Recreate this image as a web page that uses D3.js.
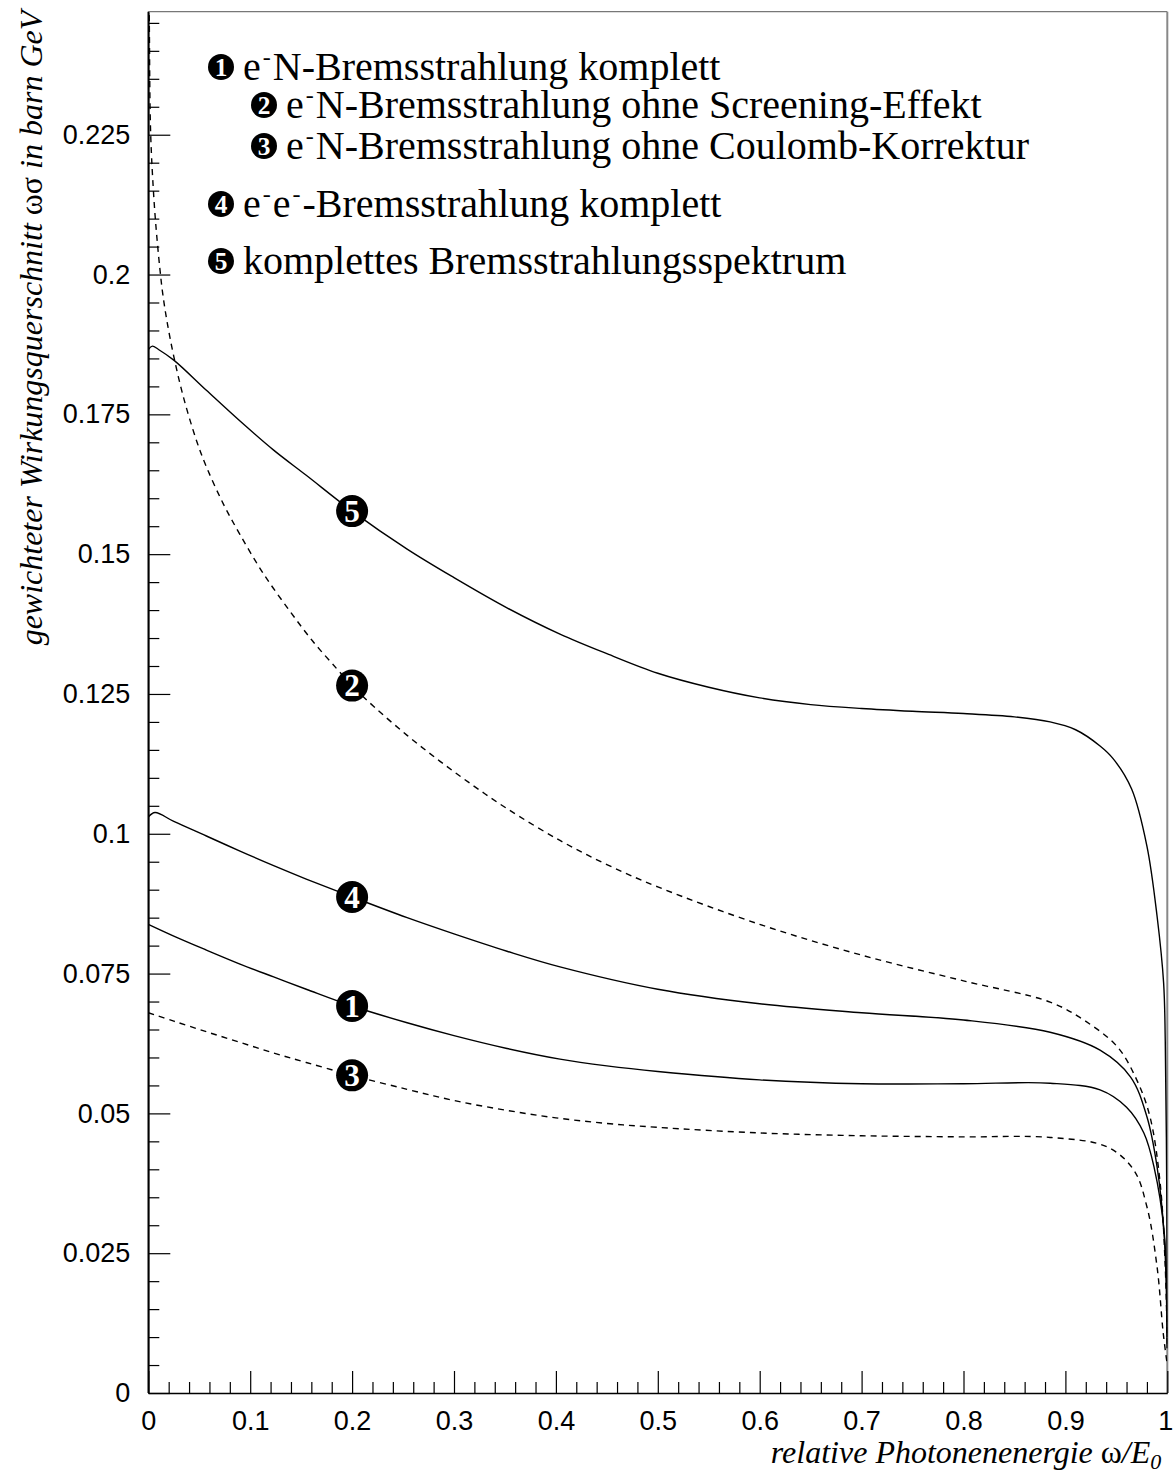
<!DOCTYPE html>
<html>
<head>
<meta charset="utf-8">
<script src="https://cdn.jsdelivr.net/npm/d3@7"></script>
<style>
  body { margin: 0; background: #fff; }
  svg { display: block; }
</style>
</head>
<body>
<svg id="chart" width="1173" height="1476"></svg>
<script>
// Weighted bremsstrahlung cross section ω·dσ/dω versus relative photon energy ω/E0

// (1) e-N bremsstrahlung, complete
const x1 = [0, 0.025, 0.057, 0.09, 0.123, 0.155, 0.2, 0.254, 0.3, 0.352, 0.404, 0.45, 0.5, 0.6, 0.7, 0.8, 0.885, 0.934, 0.96, 0.977, 0.987, 0.997, 1];
const y1 = [0.0838, 0.0817, 0.0792, 0.0767, 0.0744, 0.0722, 0.0692, 0.0662, 0.0639, 0.0616, 0.0597, 0.0585, 0.0575, 0.0560, 0.0553, 0.0553, 0.0554, 0.0542, 0.0511, 0.0465, 0.0404, 0.0286, 0.008];

// (2) e-N bremsstrahlung without screening
const x2 = [0, 0.001, 0.0023, 0.0056, 0.0085, 0.0115, 0.014, 0.018, 0.0245, 0.0343, 0.0475, 0.0573, 0.0736, 0.09, 0.113, 0.139, 0.162, 0.185, 0.2, 0.221, 0.254, 0.286, 0.319, 0.352, 0.404, 0.45, 0.5, 0.6, 0.7, 0.8, 0.885, 0.918, 0.951, 0.97, 0.983, 0.993, 0.998, 1];
const y2 = [0.27, 0.245, 0.2253, 0.2133, 0.2065, 0.2008, 0.1968, 0.1920, 0.1858, 0.1782, 0.1702, 0.1655, 0.1590, 0.1535, 0.1465, 0.1398, 0.1343, 0.1295, 0.1265, 0.1228, 0.1176, 0.1130, 0.1086, 0.1045, 0.0988, 0.0945, 0.0905, 0.0838, 0.0783, 0.0737, 0.0699, 0.0667, 0.0619, 0.0560, 0.0494, 0.0375, 0.0225, 0.008];

// (3) e-N bremsstrahlung without Coulomb correction
const x3 = [0, 0.025, 0.057, 0.09, 0.123, 0.155, 0.2, 0.254, 0.3, 0.35, 0.4, 0.45, 0.5, 0.6, 0.7, 0.8, 0.885, 0.941, 0.967, 0.98, 0.99, 0.996, 1];
const y3 = [0.0680, 0.0665, 0.0646, 0.0627, 0.0608, 0.0591, 0.0568, 0.0543, 0.0523, 0.0506, 0.0492, 0.0482, 0.0475, 0.0465, 0.0460, 0.0458, 0.0457, 0.0440, 0.0399, 0.0333, 0.0225, 0.0107, 0.005];

// (4) e-e bremsstrahlung, complete
const x4 = [0, 0.0066, 0.025, 0.057, 0.09, 0.123, 0.155, 0.2, 0.254, 0.3, 0.352, 0.404, 0.5, 0.6, 0.7, 0.8, 0.885, 0.934, 0.964, 0.98, 0.99, 0.997, 1];
const y4 = [0.1030, 0.1038, 0.1022, 0.0996, 0.0969, 0.0943, 0.0919, 0.0887, 0.0850, 0.0821, 0.0790, 0.0762, 0.0722, 0.0696, 0.0680, 0.0667, 0.0645, 0.0613, 0.0565, 0.0494, 0.0404, 0.028, 0.008];

// (5) complete bremsstrahlung spectrum
const x5 = [0, 0.004, 0.01, 0.025, 0.057, 0.09, 0.123, 0.155, 0.2, 0.254, 0.3, 0.352, 0.404, 0.45, 0.5, 0.55, 0.6, 0.65, 0.7, 0.75, 0.8, 0.85, 0.885, 0.91, 0.934, 0.947, 0.965, 0.98, 0.99, 0.9964, 0.998, 0.9995, 1];
const y5 = [0.1866, 0.1872, 0.1866, 0.1847, 0.1793, 0.1738, 0.1686, 0.1641, 0.1577, 0.1509, 0.1458, 0.1404, 0.1357, 0.1322, 0.1287, 0.1262, 0.1243, 0.1231, 0.1224, 0.1219, 0.1215, 0.1209, 0.1200, 0.1186, 0.1157, 0.1134, 0.1080, 0.0978, 0.0852, 0.0733, 0.063, 0.035, 0.010];

const curveNumbers = [1, 2, 3, 4, 5];
const curveDashed = [false, true, true, false, false];
const labelAt = 0.2;   // every curve is tagged with its number at ω/E0 = 0.2

const legendText = [
  "e^-N-Bremsstrahlung komplett",
  "e^-N-Bremsstrahlung ohne Screening-Effekt",
  "e^-N-Bremsstrahlung ohne Coulomb-Korrektur",
  "e^-e^--Bremsstrahlung komplett",
  "komplettes Bremsstrahlungsspektrum"
];

const xMajorTicks = [0, 0.1, 0.2, 0.3, 0.4, 0.5, 0.6, 0.7, 0.8, 0.9, 1];
const yMajorTicks = [0, 0.025, 0.05, 0.075, 0.1, 0.125, 0.15, 0.175, 0.2, 0.225];

// ---------------------------------------------------------------------------
const svg = d3.select("#chart");
const serif = "'Liberation Serif', 'Times New Roman', serif";
const sans = "'Liberation Sans', Arial, Helvetica, sans-serif";

const plot = { left: 148.3, right: 1167.3, top: 11.7, bottom: 1393 };

const x = d3.scaleLinear().domain([0, 1]).range([plot.left, plot.right]);
const y = d3.scaleLinear().domain([0, 0.247]).range([plot.bottom, plot.top]);

// clip region for the curves
svg.append("defs").append("clipPath").attr("id", "plotClip")
  .append("rect")
  .attr("x", plot.left).attr("y", plot.top)
  .attr("width", plot.right - plot.left).attr("height", plot.bottom - plot.top);

// frame: top and right edges
svg.append("line")
  .attr("x1", plot.left).attr("x2", plot.right)
  .attr("y1", plot.top).attr("y2", plot.top)
  .attr("stroke", "#777").attr("stroke-width", 1.2);
svg.append("line")
  .attr("x1", plot.right).attr("x2", plot.right)
  .attr("y1", plot.top).attr("y2", plot.bottom)
  .attr("stroke", "#888").attr("stroke-width", 2);

// minor ticks
const xMinor = d3.range(0, 1.0001, 0.02).map(v => +v.toFixed(2)).filter(v => !xMajorTicks.includes(v));
const yMinor = d3.range(0, 0.2471, 0.005).map(v => +v.toFixed(3)).filter(v => !yMajorTicks.includes(v));

const fmt = d => String(+d.toFixed(3));

function styleAxis(g) {
  g.selectAll(".tick line").attr("stroke", "#000").attr("stroke-width", 1.2);
  g.select(".domain").attr("stroke", "#000").attr("stroke-width", 1.6);
}

const xAxisMinor = svg.append("g")
  .attr("transform", `translate(0,${plot.bottom})`)
  .call(d3.axisBottom(x).tickValues(xMinor).tickSize(-11).tickSizeOuter(0).tickFormat(""));
xAxisMinor.select(".domain").remove();
xAxisMinor.selectAll(".tick line").attr("stroke", "#000").attr("stroke-width", 1.2);

const xAxis = svg.append("g")
  .attr("transform", `translate(0,${plot.bottom})`)
  .call(d3.axisBottom(x).tickValues(xMajorTicks).tickSize(-22).tickSizeOuter(0).tickPadding(18).tickFormat(fmt));
styleAxis(xAxis);
xAxis.selectAll("text").attr("font-family", sans).attr("font-size", 27).attr("fill", "#000");
// keep the last label inside the page edge
xAxis.selectAll(".tick text").filter(d => d === 1).attr("dx", -2);

const yAxisMinor = svg.append("g")
  .attr("transform", `translate(${plot.left},0)`)
  .call(d3.axisLeft(y).tickValues(yMinor).tickSize(-11).tickSizeOuter(0).tickFormat(""));
yAxisMinor.select(".domain").remove();
yAxisMinor.selectAll(".tick line").attr("stroke", "#000").attr("stroke-width", 1.2);

const yAxis = svg.append("g")
  .attr("transform", `translate(${plot.left},0)`)
  .call(d3.axisLeft(y).tickValues(yMajorTicks).tickSize(-22).tickSizeOuter(0).tickPadding(18).tickFormat(fmt));
styleAxis(yAxis);
yAxis.selectAll("text").attr("font-family", sans).attr("font-size", 27).attr("fill", "#000");
// extend the y axis line up to the top of the frame
yAxis.append("line")
  .attr("x1", 0).attr("x2", 0).attr("y1", plot.top).attr("y2", plot.bottom)
  .attr("stroke", "#000").attr("stroke-width", 1.6);

// axis titles
const yTitle = svg.append("text")
  .attr("transform", `translate(42,${plot.top - 1}) rotate(-90)`)
  .attr("text-anchor", "end")
  .attr("font-family", serif).attr("font-size", 32).attr("fill", "#000");
yTitle.append("tspan").attr("font-style", "italic").text("gewichteter Wirkungsquerschnitt ");
yTitle.append("tspan").text("ωσ");
yTitle.append("tspan").attr("font-style", "italic").text(" in barn GeV");

const xTitle = svg.append("text")
  .attr("x", plot.right - 6).attr("y", 1463)
  .attr("text-anchor", "end")
  .attr("font-family", serif).attr("font-size", 32).attr("fill", "#000");
xTitle.append("tspan").attr("font-style", "italic").text("relative Photonenenergie ");
xTitle.append("tspan").text("ω");
xTitle.append("tspan").attr("font-style", "italic").text("/E");
xTitle.append("tspan").attr("font-style", "italic").attr("font-size", 22).attr("dy", 6).text("0");

// curves
const seriesX = [x1, x2, x3, x4, x5];
const seriesY = [y1, y2, y3, y4, y5];
const series = curveNumbers.map((n, i) => ({
  n,
  dashed: curveDashed[i],
  points: seriesX[i].map((xv, j) => [xv, seriesY[i][j]])
}));

const line = d3.line()
  .x(d => x(d[0]))
  .y(d => y(d[1]))
  .curve(d3.curveCatmullRom.alpha(0.5));

svg.append("g").attr("clip-path", "url(#plotClip)")
  .selectAll("path")
  .data(series)
  .join("path")
  .attr("d", d => line(d.points))
  .attr("fill", "none")
  .attr("stroke", "#000")
  .attr("stroke-width", 1.4)
  .attr("stroke-dasharray", d => d.dashed ? "6,5" : null);

// numbered badge: black disc with a white digit
function badge(g, cx, cy, r, n) {
  g.append("circle").attr("cx", cx).attr("cy", cy).attr("r", r).attr("fill", "#000");
  g.append("text")
    .attr("x", cx).attr("y", cy)
    .attr("dy", "0.34em")
    .attr("text-anchor", "middle")
    .attr("font-family", serif).attr("font-weight", "bold")
    .attr("font-size", r * 1.95)
    .attr("fill", "#fff")
    .text(n);
}

// badges sitting on the curves
const curveLabels = svg.append("g");
series.forEach(s => {
  const p = s.points.find(d => d[0] === labelAt);
  badge(curveLabels, x(p[0]), y(p[1]), 16, s.n);
});

// legend
const legendRows = [
  { cx: 221, cy: 67, baseline: 80 },
  { cx: 264, cy: 105, baseline: 118 },
  { cx: 264, cy: 146, baseline: 159 },
  { cx: 221, cy: 204, baseline: 217 },
  { cx: 221, cy: 261, baseline: 274 }
];
const legend = svg.append("g");
legendText.forEach((t, i) => {
  const row = legendRows[i];
  badge(legend, row.cx, row.cy, 13, curveNumbers[i]);
  const txt = legend.append("text")
    .attr("x", row.cx + 22).attr("y", row.baseline)
    .attr("font-family", serif).attr("font-size", 40).attr("fill", "#000");
  const parts = t.split(/(\^-)/).filter(p => p.length);
  let raised = false;
  parts.forEach(p => {
    if (p === "^-") {
      txt.append("tspan").attr("font-size", 24).attr("dx", 2).attr("dy", -15).text("-");
      raised = true;
    } else {
      txt.append("tspan").attr("dx", raised ? 2 : 0).attr("dy", raised ? 15 : 0).text(p);
      raised = false;
    }
  });
});
</script>
</body>
</html>
